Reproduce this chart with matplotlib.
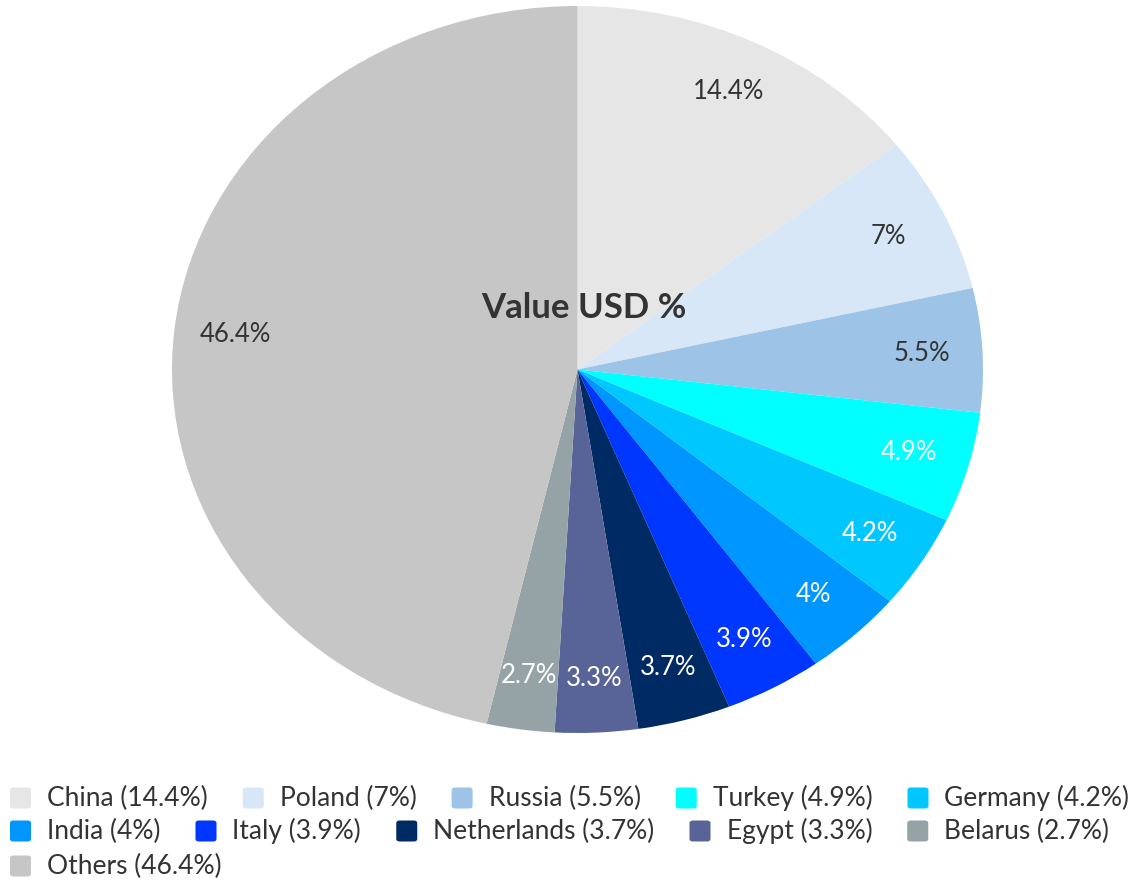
"""
Import share by country - pie chart with flow legend
"""
import matplotlib
matplotlib.use('Agg')
import matplotlib.pyplot as plt
from matplotlib.patches import FancyBboxPatch

# Data
countries = ['China', 'Poland', 'Russia', 'Turkey', 'Germany', 'India',
             'Italy', 'Netherlands', 'Egypt', 'Belarus', 'Others']
shares = [14.4, 7, 5.5, 4.9, 4.2, 4, 3.9, 3.7, 3.3, 2.7, 46.4]
colors = ['#e6e6e6', '#d8e7f7', '#9dc3e6', '#00ffff', '#00c8ff', '#0096ff',
          '#0037ff', '#002a63', '#586497', '#95a3a6', '#c6c6c6']
label_colors = ['#333333', '#333333', '#333333', 'white', 'white', 'white',
                'white', 'white', 'white', 'white', '#333333']

plt.rcParams['font.family'] = ['Lato', 'DejaVu Sans']

W, H = 1144, 882
fig = plt.figure(figsize=(W / 100, H / 100), dpi=100)
ax = fig.add_axes([172 / W, 1 - 733 / H, 811 / W, 727 / H])

wedges, texts, autotexts = ax.pie(
    shares, colors=colors, startangle=90, counterclock=False,
    autopct=lambda p: f"{round(p, 1):g}%", pctdistance=0.85,
    textprops={'fontsize': 18.5})
for t, c in zip(autotexts, label_colors):
    t.set_color(c)
ax.set_aspect('auto')
ax.set_xlim(-1, 1)
ax.set_ylim(-1, 1)

ax.text(0.015, 0.17, 'Value USD %', ha='center', va='center', fontsize=25,
        fontweight='bold', color='#333333')

# Flow legend under the chart, five entries per row
fig.canvas.draw()
renderer = fig.canvas.get_renderer()
row_y = [798, 831, 866]
sq = 21
per_row = 5
x = 10
for i, (name, val, col) in enumerate(zip(countries, shares, colors)):
    if i and i % per_row == 0:
        x = 10
    y = row_y[i // per_row]
    label = f"{name} ({val:g}%)"
    t = fig.text((x + sq + 16) / W, 1 - y / H, label, fontsize=19,
                 color='#333333', va='center')
    tw = t.get_window_extent(renderer).width
    fig.patches.append(FancyBboxPatch(
        (x / W, 1 - (y + sq / 2) / H), sq / W, sq / H,
        boxstyle='round,pad=0,rounding_size=0.003', transform=fig.transFigure,
        facecolor=col, edgecolor='none'))
    x += sq + 16 + tw + 35

fig.savefig('out.png', dpi=100)
